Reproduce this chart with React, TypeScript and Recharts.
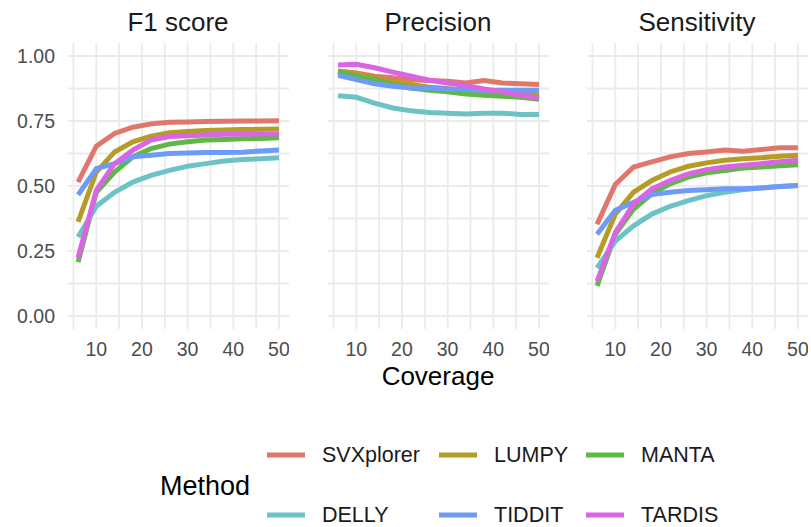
import { LineChart, Line, XAxis, YAxis, CartesianGrid } from 'recharts'

// sequencing coverage
const coverage = [6, 10, 14, 18, 22, 26, 30, 34, 38, 42, 46, 50]

const methods = ['SVXplorer', 'LUMPY', 'MANTA', 'DELLY', 'TIDDIT', 'TARDIS']
const methodColors = ['#E0776D', '#B59C26', '#5DB845', '#6CC2C4', '#6E9BF8', '#D965E2']

// F1 score
const f1SVXplorer = [0.515, 0.653, 0.702, 0.726, 0.739, 0.745, 0.746, 0.748, 0.749, 0.75, 0.75, 0.751]
const f1LUMPY = [0.362, 0.554, 0.631, 0.67, 0.692, 0.705, 0.71, 0.713, 0.715, 0.717, 0.718, 0.719]
const f1MANTA = [0.207, 0.476, 0.554, 0.612, 0.644, 0.661, 0.67, 0.677, 0.679, 0.682, 0.683, 0.686]
const f1DELLY = [0.304, 0.422, 0.476, 0.515, 0.541, 0.56, 0.576, 0.586, 0.596, 0.602, 0.605, 0.609]
const f1TIDDIT = [0.466, 0.567, 0.586, 0.612, 0.618, 0.625, 0.627, 0.629, 0.629, 0.63, 0.635, 0.638]
const f1TARDIS = [0.224, 0.483, 0.586, 0.638, 0.677, 0.69, 0.693, 0.696, 0.699, 0.699, 0.7, 0.7]

// Precision
const precSVXplorer = [0.942, 0.935, 0.922, 0.916, 0.909, 0.906, 0.903, 0.896, 0.906, 0.896, 0.893, 0.89]
const precLUMPY = [0.94, 0.93, 0.915, 0.9, 0.89, 0.88, 0.875, 0.865, 0.86, 0.858, 0.855, 0.85]
const precMANTA = [0.939, 0.922, 0.909, 0.89, 0.877, 0.868, 0.862, 0.854, 0.849, 0.845, 0.841, 0.834]
const precDELLY = [0.847, 0.841, 0.819, 0.8, 0.789, 0.783, 0.78, 0.777, 0.78, 0.78, 0.775, 0.775]
const precTIDDIT = [0.926, 0.909, 0.893, 0.884, 0.877, 0.877, 0.873, 0.871, 0.868, 0.868, 0.868, 0.868]
const precTARDIS = [0.965, 0.968, 0.955, 0.938, 0.922, 0.907, 0.896, 0.886, 0.873, 0.862, 0.849, 0.838]

// Sensitivity
const sensSVXplorer = [0.353, 0.506, 0.573, 0.593, 0.612, 0.625, 0.631, 0.638, 0.634, 0.64, 0.647, 0.647]
const sensLUMPY = [0.224, 0.392, 0.476, 0.521, 0.554, 0.576, 0.589, 0.599, 0.605, 0.609, 0.614, 0.618]
const sensMANTA = [0.116, 0.314, 0.411, 0.47, 0.508, 0.534, 0.551, 0.56, 0.569, 0.573, 0.578, 0.582]
const sensDELLY = [0.185, 0.288, 0.347, 0.392, 0.422, 0.444, 0.463, 0.476, 0.486, 0.493, 0.498, 0.502]
const sensTIDDIT = [0.314, 0.407, 0.437, 0.467, 0.476, 0.483, 0.486, 0.489, 0.489, 0.492, 0.498, 0.502]
const sensTARDIS = [0.133, 0.321, 0.431, 0.489, 0.521, 0.547, 0.563, 0.573, 0.58, 0.586, 0.593, 0.599]

const xTicks = [5, 10, 15, 20, 25, 30, 35, 40, 45, 50]
const yTicks = [0, 0.125, 0.25, 0.375, 0.5, 0.625, 0.75, 0.875, 1]
const xDomain = [3.8, 52.2]
const yDomain = [-0.05, 1.05]

const FONT = '"Liberation Sans", Arial, sans-serif'

function buildRows(series: number[][]) {
  return coverage.map((c, i) => {
    const row: Record<string, number> = { coverage: c }
    methods.forEach((m, j) => {
      row[m] = series[j][i]
    })
    return row
  })
}

const panels = [
  { title: 'F1 score', rows: buildRows([f1SVXplorer, f1LUMPY, f1MANTA, f1DELLY, f1TIDDIT, f1TARDIS]), left: 0, center: 178 },
  { title: 'Precision', rows: buildRows([precSVXplorer, precLUMPY, precMANTA, precDELLY, precTIDDIT, precTARDIS]), left: 328, center: 438 },
  { title: 'Sensitivity', rows: buildRows([sensSVXplorer, sensLUMPY, sensMANTA, sensDELLY, sensTIDDIT, sensTARDIS]), left: 587, center: 697 },
]

const legendRows = [
  [0, 1, 2],
  [3, 4, 5],
]
const legendCols = [267, 439, 586]

// grid lines only at the tick values (no frame around the panel)
const hGrid = ({ offset }: any) =>
  yTicks.map((t) => offset.top + ((yDomain[1] - t) / (yDomain[1] - yDomain[0])) * offset.height)
const vGrid = ({ offset }: any) =>
  xTicks.map((t) => offset.left + ((t - xDomain[0]) / (xDomain[1] - xDomain[0])) * offset.width)

function Panel({ rows, showY }: { rows: Record<string, number>[]; showY: boolean }) {
  const yWidth = showY ? 68 : 0
  return (
    <LineChart
      width={221 + yWidth}
      height={370}
      data={rows}
      margin={{ top: 43, right: 0, bottom: 0, left: 0 }}
    >
      <CartesianGrid
        stroke="#EBEBEB"
        strokeWidth={1.8}
        horizontalCoordinatesGenerator={hGrid}
        verticalCoordinatesGenerator={vGrid}
      />
      <XAxis
        dataKey="coverage"
        type="number"
        domain={xDomain}
        ticks={xTicks}
        interval={0}
        tickFormatter={(v: number) => (v % 10 === 0 ? String(v) : '')}
        axisLine={false}
        tickLine={false}
        tickSize={6}
        tickMargin={7}
        height={41}
        tick={{ fontSize: 19.5, fill: '#4D4D4D', fontFamily: FONT }}
      />
      <YAxis
        type="number"
        domain={yDomain}
        ticks={yTicks}
        interval={0}
        hide={!showY}
        width={yWidth}
        tickFormatter={(v: number) => (Math.round(v * 1000) % 250 === 0 ? v.toFixed(2) : '')}
        axisLine={false}
        tickLine={false}
        tickSize={6}
        tickMargin={7}
        tick={{ fontSize: 19.5, fill: '#4D4D4D', fontFamily: FONT }}
      />
      {methods.map((m, i) => (
        <Line
          key={m}
          dataKey={m}
          stroke={methodColors[i]}
          strokeWidth={5}
          dot={false}
          type="linear"
          isAnimationActive={false}
        />
      ))}
    </LineChart>
  )
}

export default function App() {
  return (
    <div
      style={{
        position: 'absolute',
        left: 0,
        top: 0,
        width: 811,
        height: 527,
        background: '#fff',
        fontFamily: FONT,
        overflow: 'hidden',
      }}
    >
      {panels.map((p, i) => (
        <div key={p.title}>
          <div style={{ position: 'absolute', left: p.left, top: 0 }}>
            <Panel rows={p.rows} showY={i === 0} />
          </div>
          <div
            style={{
              position: 'absolute',
              left: p.center - 100,
              width: 200,
              top: 7,
              textAlign: 'center',
              fontSize: 26,
              color: '#1A1A1A',
            }}
          >
            {p.title}
          </div>
        </div>
      ))}
      <div
        style={{
          position: 'absolute',
          left: 338,
          width: 200,
          top: 361,
          textAlign: 'center',
          fontSize: 26,
          color: '#000',
        }}
      >
        Coverage
      </div>
      <div style={{ position: 'absolute', left: 160, top: 471, fontSize: 27, color: '#000' }}>Method</div>
      {legendRows.map((r, ri) =>
        r.map((mi, ci) => (
          <div
            key={methods[mi]}
            style={{
              position: 'absolute',
              left: legendCols[ci],
              top: ri === 0 ? 441 : 501,
              height: 28,
              display: 'flex',
              alignItems: 'center',
            }}
          >
            <svg width={38} height={28}>
              <line x1={0} x2={38} y1={14} y2={14} stroke={methodColors[mi]} strokeWidth={5} />
            </svg>
            <span style={{ marginLeft: 17, fontSize: 21.5, color: '#1A1A1A' }}>{methods[mi]}</span>
          </div>
        ))
      )}
    </div>
  )
}
